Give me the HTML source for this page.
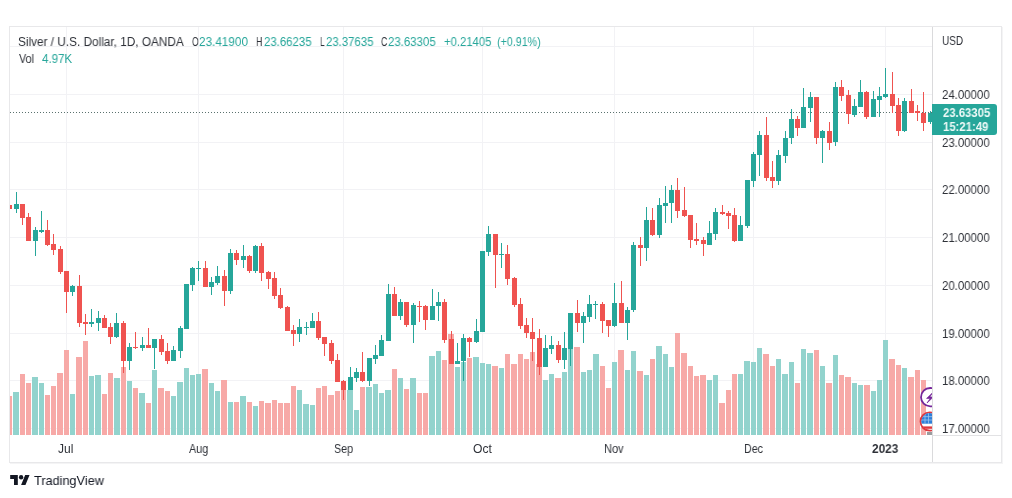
<!DOCTYPE html>
<html><head><meta charset="utf-8">
<style>
html,body{margin:0;padding:0;background:#fff;}
body{width:1012px;height:498px;position:relative;overflow:hidden;font-family:"Liberation Sans",sans-serif;color:#2e3138;}
.abs{position:absolute;}
.tx{position:absolute;white-space:nowrap;will-change:transform;}
#frame{position:absolute;left:9px;top:26px;width:991px;height:435px;border:1px solid #e8e8ea;}
</style></head><body>
<div id="frame"></div>
<svg class="abs" style="left:0;top:0" width="1012" height="498" viewBox="0 0 1012 498" shape-rendering="crispEdges">
<defs>
<pattern id="dots" x="1" y="0" width="3" height="498" patternUnits="userSpaceOnUse"><rect x="0" y="0" width="1" height="498" fill="#5a716e"/></pattern>
<clipPath id="pane"><rect x="10" y="27" width="922" height="408"/></clipPath>
</defs>
<g clip-path="url(#pane)">
<rect x="10" y="46" width="922" height="1" fill="#f2f2f5"/>
<rect x="10" y="94" width="922" height="1" fill="#f2f2f5"/>
<rect x="10" y="142" width="922" height="1" fill="#f2f2f5"/>
<rect x="10" y="189" width="922" height="1" fill="#f2f2f5"/>
<rect x="10" y="237" width="922" height="1" fill="#f2f2f5"/>
<rect x="10" y="285" width="922" height="1" fill="#f2f2f5"/>
<rect x="10" y="333" width="922" height="1" fill="#f2f2f5"/>
<rect x="10" y="380" width="922" height="1" fill="#f2f2f5"/>
<rect x="10" y="428" width="922" height="1" fill="#f2f2f5"/>
<rect x="66" y="27" width="1" height="408" fill="#f2f2f5"/>
<rect x="198" y="27" width="1" height="408" fill="#f2f2f5"/>
<rect x="343" y="27" width="1" height="408" fill="#f2f2f5"/>
<rect x="482" y="27" width="1" height="408" fill="#f2f2f5"/>
<rect x="614" y="27" width="1" height="408" fill="#f2f2f5"/>
<rect x="753" y="27" width="1" height="408" fill="#f2f2f5"/>
<rect x="885" y="27" width="1" height="408" fill="#f2f2f5"/>
<rect x="7" y="396" width="5" height="39" fill="#f7a9a7"/>
<rect x="13" y="392" width="6" height="43" fill="#92d3cd"/>
<rect x="20" y="374" width="5" height="61" fill="#f7a9a7"/>
<rect x="26" y="383" width="5" height="52" fill="#f7a9a7"/>
<rect x="32" y="377" width="6" height="58" fill="#92d3cd"/>
<rect x="39" y="383" width="5" height="52" fill="#92d3cd"/>
<rect x="45" y="395" width="5" height="40" fill="#f7a9a7"/>
<rect x="51" y="386" width="5" height="49" fill="#f7a9a7"/>
<rect x="57" y="373" width="6" height="62" fill="#f7a9a7"/>
<rect x="64" y="350" width="5" height="85" fill="#f7a9a7"/>
<rect x="70" y="394" width="5" height="41" fill="#92d3cd"/>
<rect x="76" y="357" width="6" height="78" fill="#f7a9a7"/>
<rect x="83" y="341" width="5" height="94" fill="#f7a9a7"/>
<rect x="89" y="376" width="5" height="59" fill="#92d3cd"/>
<rect x="95" y="375" width="6" height="60" fill="#92d3cd"/>
<rect x="102" y="394" width="5" height="41" fill="#f7a9a7"/>
<rect x="108" y="373" width="5" height="62" fill="#f7a9a7"/>
<rect x="114" y="378" width="6" height="57" fill="#92d3cd"/>
<rect x="121" y="367" width="5" height="68" fill="#f7a9a7"/>
<rect x="127" y="381" width="5" height="54" fill="#92d3cd"/>
<rect x="133" y="388" width="5" height="47" fill="#f7a9a7"/>
<rect x="139" y="393" width="6" height="42" fill="#92d3cd"/>
<rect x="146" y="403" width="5" height="32" fill="#f7a9a7"/>
<rect x="152" y="370" width="5" height="65" fill="#92d3cd"/>
<rect x="158" y="388" width="6" height="47" fill="#f7a9a7"/>
<rect x="165" y="391" width="5" height="44" fill="#f7a9a7"/>
<rect x="171" y="396" width="5" height="39" fill="#92d3cd"/>
<rect x="177" y="382" width="6" height="53" fill="#92d3cd"/>
<rect x="184" y="368" width="5" height="67" fill="#92d3cd"/>
<rect x="190" y="375" width="5" height="60" fill="#92d3cd"/>
<rect x="196" y="374" width="5" height="61" fill="#92d3cd"/>
<rect x="202" y="369" width="6" height="66" fill="#f7a9a7"/>
<rect x="209" y="383" width="5" height="52" fill="#92d3cd"/>
<rect x="215" y="391" width="5" height="44" fill="#92d3cd"/>
<rect x="221" y="380" width="6" height="55" fill="#f7a9a7"/>
<rect x="228" y="402" width="5" height="33" fill="#92d3cd"/>
<rect x="234" y="402" width="5" height="33" fill="#f7a9a7"/>
<rect x="240" y="396" width="6" height="39" fill="#92d3cd"/>
<rect x="247" y="402" width="5" height="33" fill="#f7a9a7"/>
<rect x="253" y="406" width="5" height="29" fill="#92d3cd"/>
<rect x="259" y="401" width="5" height="34" fill="#f7a9a7"/>
<rect x="265" y="403" width="6" height="32" fill="#f7a9a7"/>
<rect x="272" y="400" width="5" height="35" fill="#f7a9a7"/>
<rect x="278" y="403" width="5" height="32" fill="#f7a9a7"/>
<rect x="284" y="403" width="6" height="32" fill="#f7a9a7"/>
<rect x="291" y="386" width="5" height="49" fill="#f7a9a7"/>
<rect x="297" y="390" width="5" height="45" fill="#92d3cd"/>
<rect x="303" y="404" width="6" height="31" fill="#92d3cd"/>
<rect x="310" y="405" width="5" height="30" fill="#92d3cd"/>
<rect x="316" y="388" width="5" height="47" fill="#f7a9a7"/>
<rect x="322" y="386" width="5" height="49" fill="#f7a9a7"/>
<rect x="328" y="395" width="6" height="40" fill="#f7a9a7"/>
<rect x="335" y="391" width="5" height="44" fill="#f7a9a7"/>
<rect x="341" y="390" width="5" height="45" fill="#f7a9a7"/>
<rect x="347" y="390" width="6" height="45" fill="#92d3cd"/>
<rect x="354" y="410" width="5" height="25" fill="#92d3cd"/>
<rect x="360" y="387" width="5" height="48" fill="#f7a9a7"/>
<rect x="366" y="387" width="6" height="48" fill="#92d3cd"/>
<rect x="373" y="384" width="5" height="51" fill="#92d3cd"/>
<rect x="379" y="393" width="5" height="42" fill="#92d3cd"/>
<rect x="385" y="390" width="6" height="45" fill="#92d3cd"/>
<rect x="392" y="369" width="5" height="66" fill="#f7a9a7"/>
<rect x="398" y="378" width="5" height="57" fill="#92d3cd"/>
<rect x="404" y="389" width="5" height="46" fill="#f7a9a7"/>
<rect x="410" y="378" width="6" height="57" fill="#92d3cd"/>
<rect x="417" y="393" width="5" height="42" fill="#f7a9a7"/>
<rect x="423" y="393" width="5" height="42" fill="#f7a9a7"/>
<rect x="429" y="356" width="6" height="79" fill="#92d3cd"/>
<rect x="436" y="351" width="5" height="84" fill="#92d3cd"/>
<rect x="442" y="360" width="5" height="75" fill="#f7a9a7"/>
<rect x="448" y="334" width="6" height="101" fill="#f7a9a7"/>
<rect x="455" y="367" width="5" height="68" fill="#92d3cd"/>
<rect x="461" y="362" width="5" height="73" fill="#92d3cd"/>
<rect x="467" y="358" width="5" height="77" fill="#f7a9a7"/>
<rect x="473" y="357" width="6" height="78" fill="#92d3cd"/>
<rect x="480" y="363" width="5" height="72" fill="#92d3cd"/>
<rect x="486" y="364" width="5" height="71" fill="#92d3cd"/>
<rect x="492" y="366" width="6" height="69" fill="#f7a9a7"/>
<rect x="499" y="368" width="5" height="67" fill="#92d3cd"/>
<rect x="505" y="354" width="5" height="81" fill="#f7a9a7"/>
<rect x="511" y="364" width="6" height="71" fill="#f7a9a7"/>
<rect x="518" y="354" width="5" height="81" fill="#f7a9a7"/>
<rect x="524" y="359" width="5" height="76" fill="#f7a9a7"/>
<rect x="530" y="352" width="5" height="83" fill="#f7a9a7"/>
<rect x="536" y="364" width="6" height="71" fill="#f7a9a7"/>
<rect x="543" y="380" width="5" height="55" fill="#92d3cd"/>
<rect x="549" y="374" width="5" height="61" fill="#92d3cd"/>
<rect x="555" y="378" width="6" height="57" fill="#f7a9a7"/>
<rect x="562" y="372" width="5" height="63" fill="#92d3cd"/>
<rect x="568" y="347" width="5" height="88" fill="#92d3cd"/>
<rect x="574" y="347" width="6" height="88" fill="#f7a9a7"/>
<rect x="581" y="372" width="5" height="63" fill="#92d3cd"/>
<rect x="587" y="370" width="5" height="65" fill="#92d3cd"/>
<rect x="593" y="354" width="6" height="81" fill="#92d3cd"/>
<rect x="600" y="366" width="5" height="69" fill="#f7a9a7"/>
<rect x="606" y="388" width="5" height="47" fill="#f7a9a7"/>
<rect x="612" y="362" width="5" height="73" fill="#92d3cd"/>
<rect x="618" y="350" width="6" height="85" fill="#f7a9a7"/>
<rect x="625" y="370" width="5" height="65" fill="#92d3cd"/>
<rect x="631" y="351" width="5" height="84" fill="#92d3cd"/>
<rect x="637" y="371" width="6" height="64" fill="#f7a9a7"/>
<rect x="644" y="375" width="5" height="60" fill="#92d3cd"/>
<rect x="650" y="359" width="5" height="76" fill="#f7a9a7"/>
<rect x="656" y="346" width="6" height="89" fill="#92d3cd"/>
<rect x="663" y="354" width="5" height="81" fill="#92d3cd"/>
<rect x="669" y="367" width="5" height="68" fill="#92d3cd"/>
<rect x="675" y="333" width="5" height="102" fill="#f7a9a7"/>
<rect x="681" y="353" width="6" height="82" fill="#f7a9a7"/>
<rect x="688" y="366" width="5" height="69" fill="#f7a9a7"/>
<rect x="694" y="376" width="5" height="59" fill="#f7a9a7"/>
<rect x="700" y="375" width="6" height="60" fill="#f7a9a7"/>
<rect x="707" y="380" width="5" height="55" fill="#92d3cd"/>
<rect x="713" y="375" width="5" height="60" fill="#92d3cd"/>
<rect x="719" y="403" width="6" height="32" fill="#f7a9a7"/>
<rect x="726" y="390" width="5" height="45" fill="#f7a9a7"/>
<rect x="732" y="374" width="5" height="61" fill="#f7a9a7"/>
<rect x="738" y="374" width="5" height="61" fill="#92d3cd"/>
<rect x="744" y="361" width="6" height="74" fill="#92d3cd"/>
<rect x="751" y="362" width="5" height="73" fill="#92d3cd"/>
<rect x="757" y="348" width="5" height="87" fill="#92d3cd"/>
<rect x="763" y="354" width="6" height="81" fill="#f7a9a7"/>
<rect x="770" y="366" width="5" height="69" fill="#f7a9a7"/>
<rect x="776" y="359" width="5" height="76" fill="#92d3cd"/>
<rect x="782" y="374" width="6" height="61" fill="#92d3cd"/>
<rect x="789" y="362" width="5" height="73" fill="#92d3cd"/>
<rect x="795" y="383" width="5" height="52" fill="#f7a9a7"/>
<rect x="801" y="349" width="5" height="86" fill="#92d3cd"/>
<rect x="807" y="353" width="6" height="82" fill="#92d3cd"/>
<rect x="814" y="350" width="5" height="85" fill="#f7a9a7"/>
<rect x="820" y="366" width="5" height="69" fill="#92d3cd"/>
<rect x="826" y="383" width="6" height="52" fill="#f7a9a7"/>
<rect x="833" y="355" width="5" height="80" fill="#92d3cd"/>
<rect x="839" y="375" width="5" height="60" fill="#f7a9a7"/>
<rect x="845" y="377" width="6" height="58" fill="#f7a9a7"/>
<rect x="852" y="383" width="5" height="52" fill="#92d3cd"/>
<rect x="858" y="385" width="5" height="50" fill="#92d3cd"/>
<rect x="864" y="385" width="6" height="50" fill="#f7a9a7"/>
<rect x="871" y="391" width="5" height="44" fill="#92d3cd"/>
<rect x="877" y="380" width="5" height="55" fill="#92d3cd"/>
<rect x="883" y="340" width="5" height="95" fill="#92d3cd"/>
<rect x="889" y="359" width="6" height="76" fill="#f7a9a7"/>
<rect x="896" y="365" width="5" height="70" fill="#f7a9a7"/>
<rect x="902" y="368" width="5" height="67" fill="#92d3cd"/>
<rect x="908" y="377" width="6" height="58" fill="#f7a9a7"/>
<rect x="915" y="370" width="5" height="65" fill="#f7a9a7"/>
<rect x="921" y="380" width="5" height="55" fill="#f7a9a7"/>
<rect x="927" y="432" width="6" height="3" fill="#9a9c9e"/>
<rect x="10" y="112" width="922" height="1" fill="url(#dots)"/>
<rect x="9" y="205" width="1" height="4" fill="#ef5350"/>
<rect x="7" y="205" width="5" height="4" fill="#ef5350"/>
<rect x="16" y="192" width="1" height="21" fill="#26a69a"/>
<rect x="14" y="204" width="5" height="5" fill="#26a69a"/>
<rect x="22" y="204" width="1" height="21" fill="#ef5350"/>
<rect x="20" y="204" width="5" height="14" fill="#ef5350"/>
<rect x="28" y="213" width="1" height="28" fill="#ef5350"/>
<rect x="26" y="217" width="5" height="24" fill="#ef5350"/>
<rect x="35" y="227" width="1" height="29" fill="#26a69a"/>
<rect x="33" y="230" width="5" height="11" fill="#26a69a"/>
<rect x="41" y="211" width="1" height="22" fill="#26a69a"/>
<rect x="39" y="230" width="5" height="2" fill="#26a69a"/>
<rect x="47" y="220" width="1" height="26" fill="#ef5350"/>
<rect x="45" y="230" width="5" height="15" fill="#ef5350"/>
<rect x="53" y="234" width="1" height="21" fill="#ef5350"/>
<rect x="51" y="244" width="5" height="6" fill="#ef5350"/>
<rect x="60" y="246" width="1" height="28" fill="#ef5350"/>
<rect x="58" y="249" width="5" height="23" fill="#ef5350"/>
<rect x="66" y="271" width="1" height="42" fill="#ef5350"/>
<rect x="64" y="271" width="5" height="21" fill="#ef5350"/>
<rect x="72" y="285" width="1" height="11" fill="#26a69a"/>
<rect x="70" y="286" width="5" height="6" fill="#26a69a"/>
<rect x="79" y="275" width="1" height="52" fill="#ef5350"/>
<rect x="77" y="286" width="5" height="37" fill="#ef5350"/>
<rect x="85" y="314" width="1" height="21" fill="#ef5350"/>
<rect x="83" y="322" width="5" height="2" fill="#ef5350"/>
<rect x="91" y="309" width="1" height="18" fill="#26a69a"/>
<rect x="89" y="322" width="5" height="2" fill="#26a69a"/>
<rect x="98" y="311" width="1" height="20" fill="#26a69a"/>
<rect x="96" y="318" width="5" height="5" fill="#26a69a"/>
<rect x="104" y="315" width="1" height="13" fill="#ef5350"/>
<rect x="102" y="318" width="5" height="10" fill="#ef5350"/>
<rect x="110" y="323" width="1" height="21" fill="#ef5350"/>
<rect x="108" y="327" width="5" height="10" fill="#ef5350"/>
<rect x="116" y="313" width="1" height="25" fill="#26a69a"/>
<rect x="114" y="323" width="5" height="14" fill="#26a69a"/>
<rect x="123" y="321" width="1" height="52" fill="#ef5350"/>
<rect x="121" y="323" width="5" height="38" fill="#ef5350"/>
<rect x="129" y="343" width="1" height="27" fill="#26a69a"/>
<rect x="127" y="347" width="5" height="14" fill="#26a69a"/>
<rect x="135" y="332" width="1" height="17" fill="#ef5350"/>
<rect x="133" y="347" width="5" height="1" fill="#ef5350"/>
<rect x="142" y="337" width="1" height="14" fill="#26a69a"/>
<rect x="140" y="345" width="5" height="3" fill="#26a69a"/>
<rect x="148" y="328" width="1" height="20" fill="#ef5350"/>
<rect x="146" y="345" width="5" height="3" fill="#ef5350"/>
<rect x="154" y="339" width="1" height="30" fill="#26a69a"/>
<rect x="152" y="339" width="5" height="9" fill="#26a69a"/>
<rect x="161" y="335" width="1" height="20" fill="#ef5350"/>
<rect x="159" y="339" width="5" height="13" fill="#ef5350"/>
<rect x="167" y="343" width="1" height="21" fill="#ef5350"/>
<rect x="165" y="351" width="5" height="10" fill="#ef5350"/>
<rect x="173" y="346" width="1" height="15" fill="#26a69a"/>
<rect x="171" y="350" width="5" height="11" fill="#26a69a"/>
<rect x="180" y="326" width="1" height="32" fill="#26a69a"/>
<rect x="178" y="328" width="5" height="23" fill="#26a69a"/>
<rect x="186" y="284" width="1" height="45" fill="#26a69a"/>
<rect x="184" y="284" width="5" height="45" fill="#26a69a"/>
<rect x="192" y="267" width="1" height="24" fill="#26a69a"/>
<rect x="190" y="268" width="5" height="17" fill="#26a69a"/>
<rect x="198" y="261" width="1" height="20" fill="#26a69a"/>
<rect x="196" y="268" width="5" height="1" fill="#26a69a"/>
<rect x="205" y="261" width="1" height="26" fill="#ef5350"/>
<rect x="203" y="268" width="5" height="19" fill="#ef5350"/>
<rect x="211" y="277" width="1" height="18" fill="#26a69a"/>
<rect x="209" y="282" width="5" height="5" fill="#26a69a"/>
<rect x="217" y="266" width="1" height="19" fill="#26a69a"/>
<rect x="215" y="276" width="5" height="7" fill="#26a69a"/>
<rect x="224" y="270" width="1" height="36" fill="#ef5350"/>
<rect x="222" y="276" width="5" height="15" fill="#ef5350"/>
<rect x="230" y="249" width="1" height="45" fill="#26a69a"/>
<rect x="228" y="253" width="5" height="38" fill="#26a69a"/>
<rect x="236" y="250" width="1" height="15" fill="#ef5350"/>
<rect x="234" y="253" width="5" height="7" fill="#ef5350"/>
<rect x="243" y="245" width="1" height="23" fill="#26a69a"/>
<rect x="241" y="256" width="5" height="4" fill="#26a69a"/>
<rect x="249" y="255" width="1" height="18" fill="#ef5350"/>
<rect x="247" y="256" width="5" height="15" fill="#ef5350"/>
<rect x="255" y="245" width="1" height="28" fill="#26a69a"/>
<rect x="253" y="246" width="5" height="25" fill="#26a69a"/>
<rect x="261" y="243" width="1" height="38" fill="#ef5350"/>
<rect x="259" y="246" width="5" height="27" fill="#ef5350"/>
<rect x="268" y="271" width="1" height="18" fill="#ef5350"/>
<rect x="266" y="272" width="5" height="7" fill="#ef5350"/>
<rect x="274" y="272" width="1" height="27" fill="#ef5350"/>
<rect x="272" y="278" width="5" height="18" fill="#ef5350"/>
<rect x="280" y="288" width="1" height="21" fill="#ef5350"/>
<rect x="278" y="295" width="5" height="13" fill="#ef5350"/>
<rect x="287" y="306" width="1" height="25" fill="#ef5350"/>
<rect x="285" y="307" width="5" height="24" fill="#ef5350"/>
<rect x="293" y="325" width="1" height="21" fill="#ef5350"/>
<rect x="291" y="330" width="5" height="4" fill="#ef5350"/>
<rect x="299" y="319" width="1" height="23" fill="#26a69a"/>
<rect x="297" y="327" width="5" height="7" fill="#26a69a"/>
<rect x="306" y="322" width="1" height="13" fill="#26a69a"/>
<rect x="304" y="327" width="5" height="1" fill="#26a69a"/>
<rect x="312" y="313" width="1" height="15" fill="#26a69a"/>
<rect x="310" y="321" width="5" height="7" fill="#26a69a"/>
<rect x="318" y="312" width="1" height="28" fill="#ef5350"/>
<rect x="316" y="321" width="5" height="17" fill="#ef5350"/>
<rect x="324" y="337" width="1" height="19" fill="#ef5350"/>
<rect x="322" y="337" width="5" height="7" fill="#ef5350"/>
<rect x="331" y="340" width="1" height="24" fill="#ef5350"/>
<rect x="329" y="343" width="5" height="18" fill="#ef5350"/>
<rect x="337" y="354" width="1" height="28" fill="#ef5350"/>
<rect x="335" y="360" width="5" height="22" fill="#ef5350"/>
<rect x="343" y="380" width="1" height="20" fill="#ef5350"/>
<rect x="341" y="381" width="5" height="9" fill="#ef5350"/>
<rect x="350" y="367" width="1" height="23" fill="#26a69a"/>
<rect x="348" y="377" width="5" height="13" fill="#26a69a"/>
<rect x="356" y="368" width="1" height="14" fill="#26a69a"/>
<rect x="354" y="372" width="5" height="6" fill="#26a69a"/>
<rect x="362" y="352" width="1" height="30" fill="#ef5350"/>
<rect x="360" y="372" width="5" height="9" fill="#ef5350"/>
<rect x="369" y="358" width="1" height="28" fill="#26a69a"/>
<rect x="367" y="358" width="5" height="23" fill="#26a69a"/>
<rect x="375" y="345" width="1" height="19" fill="#26a69a"/>
<rect x="373" y="355" width="5" height="4" fill="#26a69a"/>
<rect x="381" y="335" width="1" height="21" fill="#26a69a"/>
<rect x="379" y="340" width="5" height="16" fill="#26a69a"/>
<rect x="388" y="284" width="1" height="57" fill="#26a69a"/>
<rect x="386" y="294" width="5" height="47" fill="#26a69a"/>
<rect x="394" y="287" width="1" height="29" fill="#ef5350"/>
<rect x="392" y="294" width="5" height="22" fill="#ef5350"/>
<rect x="400" y="299" width="1" height="21" fill="#26a69a"/>
<rect x="398" y="302" width="5" height="14" fill="#26a69a"/>
<rect x="406" y="302" width="1" height="25" fill="#ef5350"/>
<rect x="404" y="302" width="5" height="23" fill="#ef5350"/>
<rect x="413" y="303" width="1" height="40" fill="#26a69a"/>
<rect x="411" y="305" width="5" height="20" fill="#26a69a"/>
<rect x="419" y="301" width="1" height="21" fill="#ef5350"/>
<rect x="417" y="306" width="5" height="1" fill="#ef5350"/>
<rect x="425" y="305" width="1" height="25" fill="#ef5350"/>
<rect x="423" y="306" width="5" height="14" fill="#ef5350"/>
<rect x="432" y="289" width="1" height="31" fill="#26a69a"/>
<rect x="430" y="306" width="5" height="14" fill="#26a69a"/>
<rect x="438" y="292" width="1" height="29" fill="#26a69a"/>
<rect x="436" y="302" width="5" height="4" fill="#26a69a"/>
<rect x="444" y="299" width="1" height="44" fill="#ef5350"/>
<rect x="442" y="302" width="5" height="38" fill="#ef5350"/>
<rect x="451" y="331" width="1" height="33" fill="#ef5350"/>
<rect x="449" y="339" width="5" height="25" fill="#ef5350"/>
<rect x="457" y="343" width="1" height="21" fill="#26a69a"/>
<rect x="455" y="361" width="5" height="3" fill="#26a69a"/>
<rect x="463" y="334" width="1" height="47" fill="#26a69a"/>
<rect x="461" y="338" width="5" height="23" fill="#26a69a"/>
<rect x="469" y="337" width="1" height="20" fill="#ef5350"/>
<rect x="467" y="338" width="5" height="4" fill="#ef5350"/>
<rect x="476" y="319" width="1" height="24" fill="#26a69a"/>
<rect x="474" y="331" width="5" height="11" fill="#26a69a"/>
<rect x="482" y="251" width="1" height="81" fill="#26a69a"/>
<rect x="480" y="251" width="5" height="81" fill="#26a69a"/>
<rect x="488" y="226" width="1" height="30" fill="#26a69a"/>
<rect x="486" y="234" width="5" height="18" fill="#26a69a"/>
<rect x="495" y="234" width="1" height="54" fill="#ef5350"/>
<rect x="493" y="234" width="5" height="21" fill="#ef5350"/>
<rect x="501" y="243" width="1" height="25" fill="#26a69a"/>
<rect x="499" y="254" width="5" height="1" fill="#26a69a"/>
<rect x="507" y="245" width="1" height="40" fill="#ef5350"/>
<rect x="505" y="254" width="5" height="25" fill="#ef5350"/>
<rect x="514" y="277" width="1" height="30" fill="#ef5350"/>
<rect x="512" y="278" width="5" height="27" fill="#ef5350"/>
<rect x="520" y="298" width="1" height="31" fill="#ef5350"/>
<rect x="518" y="304" width="5" height="22" fill="#ef5350"/>
<rect x="526" y="318" width="1" height="20" fill="#ef5350"/>
<rect x="524" y="325" width="5" height="8" fill="#ef5350"/>
<rect x="532" y="318" width="1" height="43" fill="#ef5350"/>
<rect x="530" y="332" width="5" height="7" fill="#ef5350"/>
<rect x="539" y="329" width="1" height="46" fill="#ef5350"/>
<rect x="537" y="338" width="5" height="29" fill="#ef5350"/>
<rect x="545" y="335" width="1" height="32" fill="#26a69a"/>
<rect x="543" y="348" width="5" height="19" fill="#26a69a"/>
<rect x="551" y="336" width="1" height="18" fill="#26a69a"/>
<rect x="549" y="345" width="5" height="4" fill="#26a69a"/>
<rect x="558" y="341" width="1" height="22" fill="#ef5350"/>
<rect x="556" y="345" width="5" height="15" fill="#ef5350"/>
<rect x="564" y="332" width="1" height="37" fill="#26a69a"/>
<rect x="562" y="348" width="5" height="12" fill="#26a69a"/>
<rect x="570" y="313" width="1" height="53" fill="#26a69a"/>
<rect x="568" y="313" width="5" height="36" fill="#26a69a"/>
<rect x="577" y="300" width="1" height="32" fill="#ef5350"/>
<rect x="575" y="313" width="5" height="10" fill="#ef5350"/>
<rect x="583" y="312" width="1" height="31" fill="#26a69a"/>
<rect x="581" y="316" width="5" height="7" fill="#26a69a"/>
<rect x="589" y="295" width="1" height="27" fill="#26a69a"/>
<rect x="587" y="304" width="5" height="13" fill="#26a69a"/>
<rect x="595" y="301" width="1" height="18" fill="#26a69a"/>
<rect x="593" y="304" width="5" height="1" fill="#26a69a"/>
<rect x="602" y="302" width="1" height="31" fill="#ef5350"/>
<rect x="600" y="304" width="5" height="17" fill="#ef5350"/>
<rect x="608" y="320" width="1" height="17" fill="#ef5350"/>
<rect x="606" y="320" width="5" height="6" fill="#ef5350"/>
<rect x="614" y="283" width="1" height="44" fill="#26a69a"/>
<rect x="612" y="303" width="5" height="23" fill="#26a69a"/>
<rect x="621" y="281" width="1" height="42" fill="#ef5350"/>
<rect x="619" y="303" width="5" height="20" fill="#ef5350"/>
<rect x="627" y="307" width="1" height="33" fill="#26a69a"/>
<rect x="625" y="310" width="5" height="13" fill="#26a69a"/>
<rect x="633" y="242" width="1" height="70" fill="#26a69a"/>
<rect x="631" y="245" width="5" height="65" fill="#26a69a"/>
<rect x="640" y="237" width="1" height="29" fill="#ef5350"/>
<rect x="638" y="245" width="5" height="3" fill="#ef5350"/>
<rect x="646" y="207" width="1" height="54" fill="#26a69a"/>
<rect x="644" y="220" width="5" height="28" fill="#26a69a"/>
<rect x="652" y="208" width="1" height="28" fill="#ef5350"/>
<rect x="650" y="220" width="5" height="15" fill="#ef5350"/>
<rect x="659" y="198" width="1" height="40" fill="#26a69a"/>
<rect x="657" y="205" width="5" height="30" fill="#26a69a"/>
<rect x="665" y="186" width="1" height="37" fill="#26a69a"/>
<rect x="663" y="203" width="5" height="3" fill="#26a69a"/>
<rect x="671" y="185" width="1" height="38" fill="#26a69a"/>
<rect x="669" y="190" width="5" height="13" fill="#26a69a"/>
<rect x="677" y="178" width="1" height="40" fill="#ef5350"/>
<rect x="675" y="190" width="5" height="21" fill="#ef5350"/>
<rect x="684" y="187" width="1" height="30" fill="#ef5350"/>
<rect x="682" y="210" width="5" height="6" fill="#ef5350"/>
<rect x="690" y="215" width="1" height="33" fill="#ef5350"/>
<rect x="688" y="215" width="5" height="25" fill="#ef5350"/>
<rect x="696" y="223" width="1" height="22" fill="#ef5350"/>
<rect x="694" y="239" width="5" height="2" fill="#ef5350"/>
<rect x="703" y="237" width="1" height="19" fill="#ef5350"/>
<rect x="701" y="240" width="5" height="4" fill="#ef5350"/>
<rect x="709" y="221" width="1" height="24" fill="#26a69a"/>
<rect x="707" y="233" width="5" height="12" fill="#26a69a"/>
<rect x="715" y="208" width="1" height="32" fill="#26a69a"/>
<rect x="713" y="212" width="5" height="22" fill="#26a69a"/>
<rect x="722" y="205" width="1" height="10" fill="#ef5350"/>
<rect x="720" y="212" width="5" height="2" fill="#ef5350"/>
<rect x="728" y="211" width="1" height="18" fill="#ef5350"/>
<rect x="726" y="213" width="5" height="3" fill="#ef5350"/>
<rect x="734" y="208" width="1" height="34" fill="#ef5350"/>
<rect x="732" y="215" width="5" height="26" fill="#ef5350"/>
<rect x="740" y="216" width="1" height="25" fill="#26a69a"/>
<rect x="738" y="225" width="5" height="16" fill="#26a69a"/>
<rect x="747" y="180" width="1" height="48" fill="#26a69a"/>
<rect x="745" y="180" width="5" height="46" fill="#26a69a"/>
<rect x="753" y="152" width="1" height="35" fill="#26a69a"/>
<rect x="751" y="154" width="5" height="27" fill="#26a69a"/>
<rect x="759" y="131" width="1" height="45" fill="#26a69a"/>
<rect x="757" y="135" width="5" height="20" fill="#26a69a"/>
<rect x="766" y="117" width="1" height="64" fill="#ef5350"/>
<rect x="764" y="135" width="5" height="43" fill="#ef5350"/>
<rect x="772" y="161" width="1" height="27" fill="#ef5350"/>
<rect x="770" y="177" width="5" height="4" fill="#ef5350"/>
<rect x="778" y="150" width="1" height="35" fill="#26a69a"/>
<rect x="776" y="155" width="5" height="26" fill="#26a69a"/>
<rect x="785" y="131" width="1" height="32" fill="#26a69a"/>
<rect x="783" y="138" width="5" height="18" fill="#26a69a"/>
<rect x="791" y="109" width="1" height="35" fill="#26a69a"/>
<rect x="789" y="119" width="5" height="19" fill="#26a69a"/>
<rect x="797" y="116" width="1" height="20" fill="#ef5350"/>
<rect x="795" y="119" width="5" height="9" fill="#ef5350"/>
<rect x="803" y="88" width="1" height="40" fill="#26a69a"/>
<rect x="801" y="107" width="5" height="21" fill="#26a69a"/>
<rect x="810" y="92" width="1" height="30" fill="#26a69a"/>
<rect x="808" y="97" width="5" height="11" fill="#26a69a"/>
<rect x="816" y="97" width="1" height="47" fill="#ef5350"/>
<rect x="814" y="97" width="5" height="41" fill="#ef5350"/>
<rect x="822" y="130" width="1" height="33" fill="#26a69a"/>
<rect x="820" y="131" width="5" height="7" fill="#26a69a"/>
<rect x="829" y="122" width="1" height="28" fill="#ef5350"/>
<rect x="827" y="131" width="5" height="12" fill="#ef5350"/>
<rect x="835" y="82" width="1" height="64" fill="#26a69a"/>
<rect x="833" y="87" width="5" height="55" fill="#26a69a"/>
<rect x="841" y="80" width="1" height="21" fill="#ef5350"/>
<rect x="839" y="87" width="5" height="9" fill="#ef5350"/>
<rect x="848" y="90" width="1" height="34" fill="#ef5350"/>
<rect x="846" y="95" width="5" height="19" fill="#ef5350"/>
<rect x="854" y="99" width="1" height="18" fill="#26a69a"/>
<rect x="852" y="106" width="5" height="9" fill="#26a69a"/>
<rect x="860" y="80" width="1" height="27" fill="#26a69a"/>
<rect x="858" y="92" width="5" height="15" fill="#26a69a"/>
<rect x="866" y="91" width="1" height="28" fill="#ef5350"/>
<rect x="864" y="92" width="5" height="25" fill="#ef5350"/>
<rect x="873" y="91" width="1" height="26" fill="#26a69a"/>
<rect x="871" y="99" width="5" height="18" fill="#26a69a"/>
<rect x="879" y="87" width="1" height="30" fill="#26a69a"/>
<rect x="877" y="96" width="5" height="4" fill="#26a69a"/>
<rect x="885" y="68" width="1" height="30" fill="#26a69a"/>
<rect x="883" y="94" width="5" height="3" fill="#26a69a"/>
<rect x="892" y="72" width="1" height="41" fill="#ef5350"/>
<rect x="890" y="94" width="5" height="12" fill="#ef5350"/>
<rect x="898" y="98" width="1" height="38" fill="#ef5350"/>
<rect x="896" y="105" width="5" height="26" fill="#ef5350"/>
<rect x="904" y="98" width="1" height="34" fill="#26a69a"/>
<rect x="902" y="101" width="5" height="30" fill="#26a69a"/>
<rect x="911" y="89" width="1" height="24" fill="#ef5350"/>
<rect x="909" y="101" width="5" height="12" fill="#ef5350"/>
<rect x="917" y="105" width="1" height="16" fill="#ef5350"/>
<rect x="915" y="111" width="5" height="2" fill="#ef5350"/>
<rect x="923" y="92" width="1" height="39" fill="#ef5350"/>
<rect x="921" y="113" width="5" height="10" fill="#ef5350"/>
<rect x="930" y="111" width="1" height="13" fill="#26a69a"/>
<rect x="928" y="113" width="5" height="9" fill="#26a69a"/>
</g>
<rect x="932" y="27" width="1" height="435" fill="#dadadc"/>
<rect x="933" y="435" width="68" height="1" fill="#e2e2e4"/>
<rect x="1002" y="27" width="1" height="437" fill="#f4f4f5"/>
<rect x="10" y="463" width="993" height="1" fill="#f4f4f5"/>
</svg>
<!-- event icons -->
<svg class="abs" style="left:0;top:0" width="1012" height="498" viewBox="0 0 1012 498">
<defs><clipPath id="pane2"><rect x="10" y="27" width="922" height="408"/></clipPath>
<clipPath id="flagc"><circle cx="929.7" cy="421.5" r="8.4"/></clipPath></defs>
<g clip-path="url(#pane2)">
<circle cx="930.2" cy="397.2" r="9.2" fill="#fff" stroke="#75269a" stroke-width="1.8"/>
<path d="M932.6 392.8 L926.6 398.4 L930.2 398.4 L927 403 L933.4 397 L929.8 397 Z" fill="#75269a" stroke="#75269a" stroke-width="0.7" stroke-linejoin="round"/>
<circle cx="929.7" cy="421.5" r="9.2" fill="#fff" stroke="#e0393e" stroke-width="1.8"/>
<g clip-path="url(#flagc)">
<rect x="920" y="413" width="14" height="10.7" fill="#2f7fd8"/>
<rect x="920" y="416.3" width="14" height="0.8" fill="#9cc4f0"/>
<rect x="920" y="419.6" width="14" height="0.8" fill="#9cc4f0"/>
<rect x="924.6" y="413" width="0.8" height="10.7" fill="#9cc4f0"/>
<rect x="928.2" y="413" width="0.8" height="10.7" fill="#9cc4f0"/>
<rect x="920" y="426.4" width="14" height="2.4" fill="#e0393e"/>
</g>
</g>
</svg>
<div class="tx" style="left:18.40px;top:36.44px;font-size:12px;line-height:12px;transform:scaleX(0.9828);transform-origin:0 0;">Silver / U.S. Dollar, 1D, OANDA</div>
<div class="tx" style="left:191.90px;top:36.44px;font-size:12px;line-height:12px;transform:scaleX(0.7069);transform-origin:0 0;">O</div>
<div class="tx" style="left:199.00px;top:36.44px;font-size:12px;line-height:12px;transform:scaleX(0.9770);transform-origin:0 0;color:#26a69a;">23.41900</div>
<div class="tx" style="left:255.90px;top:36.44px;font-size:12px;line-height:12px;transform:scaleX(0.7387);transform-origin:0 0;">H</div>
<div class="tx" style="left:263.70px;top:36.44px;font-size:12px;line-height:12px;transform:scaleX(0.9490);transform-origin:0 0;color:#26a69a;">23.66235</div>
<div class="tx" style="left:320.10px;top:36.44px;font-size:12px;line-height:12px;transform:scaleX(0.7044);transform-origin:0 0;">L</div>
<div class="tx" style="left:325.60px;top:36.44px;font-size:12px;line-height:12px;transform:scaleX(0.9470);transform-origin:0 0;color:#26a69a;">23.37635</div>
<div class="tx" style="left:381.10px;top:36.44px;font-size:12px;line-height:12px;transform:scaleX(0.7271);transform-origin:0 0;">C</div>
<div class="tx" style="left:388.10px;top:36.44px;font-size:12px;line-height:12px;transform:scaleX(0.9510);transform-origin:0 0;color:#26a69a;">23.63305</div>
<div class="tx" style="left:444.10px;top:36.44px;font-size:12px;line-height:12px;transform:scaleX(0.9407);transform-origin:0 0;color:#26a69a;">+0.21405</div>
<div class="tx" style="left:496.70px;top:36.44px;font-size:12px;line-height:12px;transform:scaleX(0.8915);transform-origin:0 0;color:#26a69a;">(+0.91%)</div>
<div class="tx" style="left:18.70px;top:52.64px;font-size:12px;line-height:12px;transform:scaleX(0.8993);transform-origin:0 0;">Vol</div>
<div class="tx" style="left:41.60px;top:52.64px;font-size:12px;line-height:12px;transform:scaleX(0.9631);transform-origin:0 0;color:#26a69a;">4.97K</div>
<div class="tx" style="left:942.00px;top:34.84px;font-size:12px;line-height:12px;transform:scaleX(0.8290);transform-origin:0 0;">USD</div>
<div class="tx" style="left:942.20px;top:88.54px;font-size:12px;line-height:12px;transform:scaleX(0.9510);transform-origin:0 0;">24.00000</div>
<div class="tx" style="left:942.20px;top:136.54px;font-size:12px;line-height:12px;transform:scaleX(0.9510);transform-origin:0 0;">23.00000</div>
<div class="tx" style="left:942.20px;top:183.54px;font-size:12px;line-height:12px;transform:scaleX(0.9510);transform-origin:0 0;">22.00000</div>
<div class="tx" style="left:942.20px;top:231.54px;font-size:12px;line-height:12px;transform:scaleX(0.9510);transform-origin:0 0;">21.00000</div>
<div class="tx" style="left:942.20px;top:279.54px;font-size:12px;line-height:12px;transform:scaleX(0.9510);transform-origin:0 0;">20.00000</div>
<div class="tx" style="left:942.20px;top:327.54px;font-size:12px;line-height:12px;transform:scaleX(0.9510);transform-origin:0 0;">19.00000</div>
<div class="tx" style="left:942.20px;top:374.54px;font-size:12px;line-height:12px;transform:scaleX(0.9510);transform-origin:0 0;">18.00000</div>
<div class="tx" style="left:942.20px;top:422.54px;font-size:12px;line-height:12px;transform:scaleX(0.9510);transform-origin:0 0;">17.00000</div>
<!-- current price tag -->
<div class="abs" style="left:932px;top:104px;width:65px;height:31px;background:#26a69a;border-radius:0 3px 3px 0;"></div>
<div class="tx" style="left:942.60px;top:106.54px;font-size:12px;line-height:12px;transform:scaleX(0.9430);transform-origin:0 0;color:#effaf8;font-weight:bold;">23.63305</div>
<div class="tx" style="left:943.10px;top:120.54px;font-size:12px;line-height:12px;transform:scaleX(0.9451);transform-origin:0 0;color:#effaf8;font-weight:bold;">15:21:49</div>
<div class="tx" style="left:58.00px;top:442.84px;font-size:12px;line-height:12px;transform:scaleX(0.9977);transform-origin:0 0;">Jul</div>
<div class="tx" style="left:188.90px;top:442.84px;font-size:12px;line-height:12px;transform:scaleX(0.8994);transform-origin:0 0;">Aug</div>
<div class="tx" style="left:333.90px;top:442.84px;font-size:12px;line-height:12px;transform:scaleX(0.8900);transform-origin:0 0;">Sep</div>
<div class="tx" style="left:472.80px;top:442.84px;font-size:12px;line-height:12px;transform:scaleX(1.0122);transform-origin:0 0;">Oct</div>
<div class="tx" style="left:604.40px;top:442.84px;font-size:12px;line-height:12px;transform:scaleX(0.9186);transform-origin:0 0;">Nov</div>
<div class="tx" style="left:743.90px;top:442.84px;font-size:12px;line-height:12px;transform:scaleX(0.8905);transform-origin:0 0;">Dec</div>
<div class="tx" style="left:872.30px;top:442.84px;font-size:12px;line-height:12px;transform:scaleX(0.9850);transform-origin:0 0;font-weight:bold;">2023</div>
<!-- tradingview logo -->
<svg class="abs" style="left:10px;top:474px" width="20" height="12" viewBox="0 2 36 22">
<path d="M14 22H7V11H0V4h14v18zM28 22h-8l7.5-18h8L28 22z" fill="#131722"/><circle cx="20" cy="8" r="4" fill="#131722"/>
</svg>
<div class="tx" style="left:33.50px;top:473.80px;font-size:13px;line-height:13px;transform:scaleX(0.9766);transform-origin:0 0;color:#131722;">TradingView</div>
</body></html>
